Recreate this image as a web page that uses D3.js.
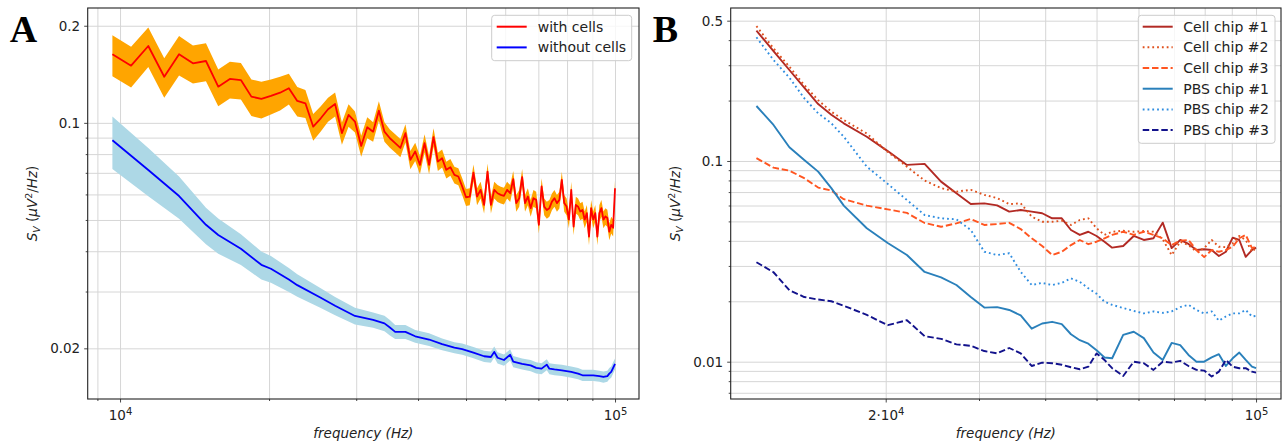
<!DOCTYPE html>
<html lang="en">
<head>
<meta charset="UTF-8">
<title>Noise spectra with and without cells</title>
<script src="https://d3js.org/d3.v7.min.js"></script>
<style>
  body { margin: 0; background: #fff; }
  svg { display: block; font-family: "DejaVu Sans", sans-serif; }
  .grid line { stroke: #d6d6d6; stroke-width: 1; }
  .grid path, .ticks path { display: none; }
  .ticks line { stroke: #333; stroke-width: 0.9; }
  .ticks text { fill: #222; font-size: 13.5px; font-family: "DejaVu Sans", sans-serif; }
</style>
</head>
<body>
<svg id="chart" width="1282" height="445"></svg>
<script>
// ---- panel A: frequency grid (Hz) ----
const freqA = [
  9650, 10527, 11404, 12282, 13159, 14036, 14913, 15790, 16668, 17545,
  18422, 19299, 20176, 21054, 21931, 22808, 23685, 24562, 25440, 26317,
  27194, 28071, 28948, 29826, 30703, 31580, 32457, 33334, 34212, 35089,
  35966, 36843, 37720, 38598, 39475, 40352, 41229, 42106, 42984, 43861,
  44738, 45615, 46492, 47370, 48247, 49124, 50001, 50878, 51756, 52633,
  53510, 54387, 55264, 56142, 57019, 57896, 58773, 59650, 60528, 61405,
  62282, 63159, 64036, 64914, 65791, 66668, 67545, 68422, 69300, 70177,
  71054, 71931, 72808, 73686, 74563, 75440, 76317, 77194, 78072, 78949,
  79826, 80703, 81580, 82458, 83335, 84212, 85089, 85966, 86844, 87721,
  88598, 89475, 90352, 91230, 92107, 92984, 93861, 94738, 95616, 96493,
  97370, 98247, 99124, 100000
];

// mean S_V with cells (uV^2/Hz)
const withCells = [
  0.1631, 0.1504, 0.1731, 0.1390, 0.1631, 0.1530, 0.1555, 0.1295, 0.1368, 0.1357,
  0.1206, 0.1186, 0.1212, 0.1240, 0.1280, 0.1169, 0.1150, 0.0973, 0.1033, 0.1102,
  0.1144, 0.0929, 0.1058, 0.1009, 0.0848, 0.0969, 0.0939, 0.1091, 0.0939, 0.0896,
  0.0865, 0.0836, 0.0929, 0.0768, 0.0815, 0.0741, 0.0865, 0.0741, 0.0903, 0.0758,
  0.0777, 0.0715, 0.0729, 0.0690, 0.0682, 0.0635, 0.0588, 0.0591, 0.0701, 0.0591,
  0.0620, 0.0557, 0.0706, 0.0557, 0.0620, 0.0605, 0.0598, 0.0594, 0.0620, 0.0605,
  0.0669, 0.0564, 0.0584, 0.0679, 0.0564, 0.0591, 0.0544, 0.0584, 0.0577, 0.0483,
  0.0635, 0.0550, 0.0537, 0.0544, 0.0570, 0.0584, 0.0564, 0.0577, 0.0666, 0.0564,
  0.0550, 0.0501, 0.0620, 0.0477, 0.0557, 0.0550, 0.0531, 0.0537, 0.0501, 0.0525,
  0.0444, 0.0544, 0.0501, 0.0525, 0.0444, 0.0525, 0.0544, 0.0501, 0.0513, 0.0507,
  0.0460, 0.0483, 0.0473, 0.0627
];
// spread (std, % of mean)
const withCellsSpread = [
  14.5, 14.5, 14, 14, 14, 13.5, 13.5, 13, 13, 13,
  13, 13, 12.5, 12, 11, 10.5, 10, 9.5, 9, 8.5,
  8.5, 8, 8, 7.5, 7.5, 7.5, 7, 7, 7, 6.5,
  6.5, 6.5, 6.5, 6.5, 6.5, 6.5, 6.5, 6.5, 6.5, 6.5,
  6.5, 6, 6, 6, 6, 6, 6, 6, 6, 6,
  6, 6, 6, 6, 6, 6, 6, 6, 6, 6,
  6, 6, 6, 6, 6, 6, 6, 6, 6, 6,
  6, 6, 6, 6, 6, 6, 6, 6, 6, 6,
  6, 6, 6, 6, 6, 6, 6, 6, 6, 6,
  6, 6, 6, 6, 6, 6, 6, 6, 6, 6,
  6, 6, 6, 6
];

const freqNoCells = [
  9650, 11404, 13159, 14913, 15790, 17545, 19299, 20176, 21931, 22808,
  25440, 27194, 29826, 32457, 34212, 35089, 35966, 37720, 39475, 42106,
  44738, 47370, 49124, 51756, 54387, 56142, 57019, 57896, 59650, 61405,
  62282, 64914, 67545, 69300, 71054, 72808, 73686, 75440, 78072, 81580,
  84212, 85966, 88598, 90352, 92984, 94738, 96493, 97370, 98247, 99124,
  100000
];
const withoutCells = [
  0.0883, 0.0714, 0.0593, 0.0483, 0.0449, 0.0407, 0.0363, 0.0353, 0.0327, 0.0314,
  0.0287, 0.0271, 0.0252, 0.0245, 0.0239, 0.0232, 0.0225, 0.0225, 0.0218, 0.0213,
  0.0206, 0.0201, 0.0199, 0.0194, 0.0189, 0.0188, 0.0195, 0.0187, 0.0184, 0.0191,
  0.0182, 0.0179, 0.0177, 0.0174, 0.0173, 0.0178, 0.0173, 0.0172, 0.0171, 0.0169,
  0.0167, 0.0165, 0.0165, 0.0165, 0.0164, 0.0163, 0.0164, 0.0167, 0.0169, 0.0174,
  0.0179
];
const withoutCellsSpread = [
  18.5, 17, 15, 13, 12.5, 11, 10, 9.5, 8.5, 8,
  7, 6.5, 6, 5.5, 5.5, 5.5, 5, 5, 4.5, 4.5,
  4.2, 4, 4, 4, 4, 4, 4, 4, 4, 4,
  4, 4, 4, 4, 4, 4, 4, 4, 4, 4,
  4, 4, 4, 4, 4, 4, 4, 4, 4, 4,
  4
];

// ---- panel B ----
const freqB = [
  11404, 12282, 13159, 14036, 14913, 15790, 16668, 18422, 20176, 21931,
  23685, 25440, 27194, 28948, 30703, 32457, 34212, 35966, 37720, 39475,
  41229, 42984, 44738, 46492, 48247, 50001, 51756, 53510, 56142, 58773,
  61405, 64036, 66668, 69300, 71931, 74563, 77194, 79826, 82458, 85089,
  87721, 90352, 92984, 95616, 98247, 100000
];
const cellChip1 = [
  0.446, 0.353, 0.284, 0.232, 0.192, 0.170, 0.154, 0.132, 0.112, 0.0956,
  0.0967, 0.0789, 0.0691, 0.0610, 0.0615, 0.0601, 0.0559, 0.0570, 0.0559, 0.0549,
  0.0518, 0.0518, 0.0453, 0.0428, 0.0444, 0.0423, 0.0396, 0.0370, 0.0377, 0.0423,
  0.0404, 0.0412, 0.0493, 0.0368, 0.0404, 0.0386, 0.0360, 0.0363, 0.0360, 0.0336,
  0.0353, 0.0415, 0.0404, 0.0333, 0.0360, 0.0370
];
const cellChip2 = [
  0.470, 0.364, 0.295, 0.239, 0.201, 0.176, 0.160, 0.137, 0.111, 0.0937,
  0.0799, 0.0732, 0.0704, 0.0718, 0.0678, 0.0653, 0.0610, 0.0615, 0.0528, 0.0498,
  0.0498, 0.0504, 0.0480, 0.0508, 0.0518, 0.0462, 0.0428, 0.0444, 0.0449, 0.0444,
  0.0448, 0.0444, 0.0407, 0.0340, 0.0396, 0.0381, 0.0353, 0.0368, 0.0404, 0.0374,
  0.0372, 0.0389, 0.0423, 0.0404, 0.0353, 0.0368
];
const cellChip3 = [
  0.1033, 0.0926, 0.0895, 0.0821, 0.0737, 0.0712, 0.0645, 0.0599, 0.0574, 0.0551,
  0.0491, 0.0470, 0.0489, 0.0514, 0.0480, 0.0485, 0.0492, 0.0458, 0.0412, 0.0377,
  0.0340, 0.0353, 0.0381, 0.0404, 0.0385, 0.0396, 0.0412, 0.0428, 0.0444, 0.0428,
  0.0444, 0.0428, 0.0412, 0.0381, 0.0401, 0.0404, 0.0360, 0.0332, 0.0360, 0.0353,
  0.0360, 0.0374, 0.0412, 0.0428, 0.0368, 0.0374
];
const pbsChip1 = [
  0.1879, 0.1512, 0.1171, 0.1012, 0.0885, 0.0732, 0.0599, 0.0462, 0.0390, 0.0340,
  0.0280, 0.0263, 0.0241, 0.0210, 0.0186, 0.0187, 0.0181, 0.0170, 0.0146, 0.0155,
  0.0158, 0.0154, 0.0137, 0.0128, 0.0123, 0.0114, 0.0105, 0.0104, 0.0136, 0.0141,
  0.0131, 0.0111, 0.0102, 0.0124, 0.0121, 0.0108, 0.0100, 0.0100, 0.0105, 0.0109,
  0.00952, 0.0104, 0.0111, 0.0102, 0.00944, 0.00928
];
const pbsChip2 = [
  0.4132, 0.3186, 0.2601, 0.2055, 0.1728, 0.1541, 0.1321, 0.0937, 0.0769, 0.0639,
  0.0538, 0.0518, 0.0512, 0.0453, 0.0353, 0.0340, 0.0347, 0.0280, 0.0241, 0.0247,
  0.0241, 0.0247, 0.0260, 0.0250, 0.0232, 0.0218, 0.0199, 0.0192, 0.0185, 0.0179,
  0.0174, 0.0178, 0.0175, 0.0178, 0.0187, 0.0192, 0.0181, 0.0174, 0.0178, 0.0160,
  0.0168, 0.0174, 0.0174, 0.0181, 0.0168, 0.0169
];
const pbsChip3 = [
  0.0313, 0.0279, 0.0227, 0.0210, 0.0204, 0.0200, 0.0190, 0.0171, 0.0152, 0.0161,
  0.0134, 0.0130, 0.0122, 0.0120, 0.0113, 0.0110, 0.0117, 0.0110, 0.00952, 0.00989,
  0.00982, 0.00966, 0.00938, 0.00917, 0.00944, 0.0110, 0.0102, 0.00928, 0.00849, 0.0100,
  0.00982, 0.0091, 0.0100, 0.00989, 0.0101, 0.00952, 0.0091, 0.00903, 0.00843, 0.00892,
  0.0102, 0.00944, 0.00928, 0.00928, 0.00892, 0.00882
];

const seriesB = [
  { name: "Cell chip #1", values: cellChip1, color: "#b22a24", dash: null },
  { name: "Cell chip #2", values: cellChip2, color: "#e0501c", dash: "1.8,3" },
  { name: "Cell chip #3", values: cellChip3, color: "#ff5520", dash: "6.5,2.8" },
  { name: "PBS chip #1", values: pbsChip1, color: "#2a80bb", dash: null },
  { name: "PBS chip #2", values: pbsChip2, color: "#2f8de0", dash: "1.8,3" },
  { name: "PBS chip #3", values: pbsChip3, color: "#12128c", dash: "6.5,2.8" }
];

const ticksAX = [1e4, 1e5], ticksAY = [0.02, 0.1, 0.2];
const ticksBX = [2e4, 1e5], ticksBY = [0.01, 0.1, 0.5];

const svg = d3.select("#chart");

function supLabel(sel) {
  sel.each(function(v) {
    const t = d3.select(this).text(null);
    const e = Math.floor(Math.log10(v) + 1e-9);
    const m = Math.round(v / Math.pow(10, e));
    t.append("tspan").text((m === 1 ? "" : m + "\u00b7") + "10");
    t.append("tspan").attr("dy", "-0.5em").attr("font-size", "10px").text(e);
  });
}

function panel(box, x, y, xt, yt, letter, id) {
  const w = box.right - box.left, h = box.bottom - box.top;
  const g = svg.append("g");

  g.append("clipPath").attr("id", id)
    .append("rect").attr("x", box.left).attr("y", box.top).attr("width", w).attr("height", h);

  // grid, major and minor
  g.append("g").attr("class", "grid").attr("transform", `translate(0,${box.bottom})`)
    .call(d3.axisBottom(x).tickValues(x.ticks()).tickSize(-h).tickFormat(""));
  g.append("g").attr("class", "grid").attr("transform", `translate(${box.left},0)`)
    .call(d3.axisLeft(y).tickValues(y.ticks()).tickSize(-w).tickFormat(""));

  // minor ticks
  g.append("g").attr("class", "ticks").attr("transform", `translate(0,${box.bottom})`)
    .call(d3.axisBottom(x).tickValues(x.ticks().filter(v => !xt.includes(v))).tickSize(2).tickFormat(""));
  g.append("g").attr("class", "ticks").attr("transform", `translate(${box.left},0)`)
    .call(d3.axisLeft(y).tickValues(y.ticks().filter(v => !yt.includes(v))).tickSize(2).tickFormat(""));

  // major ticks
  const ax = g.append("g").attr("class", "ticks").attr("transform", `translate(0,${box.bottom})`)
    .call(d3.axisBottom(x).tickValues(xt).tickSize(3.5).tickSizeOuter(0));
  ax.selectAll("text").attr("y", 11.3).attr("dy", "0.71em").call(supLabel);
  g.append("g").attr("class", "ticks").attr("transform", `translate(${box.left},0)`)
    .call(d3.axisLeft(y).tickValues(yt).tickSize(3.5).tickPadding(4).tickSizeOuter(0).tickFormat(d => String(d)));

  // axis labels
  g.append("text").attr("x", (box.left + box.right) / 2).attr("y", 438)
    .attr("text-anchor", "middle").attr("font-size", "13.5px").attr("fill", "#222")
    .html('<tspan font-style="italic">frequency</tspan> <tspan font-style="italic">(Hz)</tspan>');
  const yl = g.append("text")
    .attr("transform", `translate(${box.left - 50.5},${(box.top + box.bottom) / 2}) rotate(-90)`)
    .attr("text-anchor", "middle").attr("font-size", "13.5px").attr("fill", "#222");
  yl.append("tspan").attr("font-style", "italic").text("S");
  yl.append("tspan").attr("font-style", "italic").attr("font-size", "9.5px").attr("dy", "3").text("V");
  yl.append("tspan").attr("dy", "-3").text(" (");
  yl.append("tspan").attr("font-style", "italic").text("\u03bcV");
  yl.append("tspan").attr("font-size", "9.5px").attr("dy", "-5").text("2");
  yl.append("tspan").attr("dy", "5").text("/");
  yl.append("tspan").attr("font-style", "italic").text("Hz");
  yl.append("tspan").text(")");

  // panel letter
  svg.append("text").attr("x", box.left - 78).attr("y", 41.5)
    .attr("font-family", "Liberation Serif, serif").attr("font-weight", "bold")
    .attr("font-size", "38px").attr("fill", "#000").text(letter);

  const plot = g.append("g").attr("clip-path", `url(#${id})`);
  return { g, plot };
}

// ---------- Panel A ----------
const boxA = { left: 87.7, right: 639, top: 8, bottom: 399 };
const xA = d3.scaleLog().domain([8603, 111800]).range([boxA.left, boxA.right]);
const yA = d3.scaleLog().domain([0.01393, 0.227]).range([boxA.bottom, boxA.top]);
const pA = panel(boxA, xA, yA, ticksAX, ticksAY, "A", "clipA");

const red = freqA.map((f, i) => ({ f, v: withCells[i], s: withCellsSpread[i] / 100 }));
const blue = freqNoCells.map((f, i) => ({ f, v: withoutCells[i], s: withoutCellsSpread[i] / 100 }));

const areaA = d3.area().x(d => xA(d.f)).y0(d => yA(d.v * (1 - d.s))).y1(d => yA(d.v * (1 + d.s)));
const lineA = d3.line().x(d => xA(d.f)).y(d => yA(d.v));

pA.plot.append("path").datum(red).attr("d", areaA).attr("fill", "#ffa500");
pA.plot.append("path").datum(red).attr("d", lineA).attr("fill", "none")
  .attr("stroke", "#ff0000").attr("stroke-width", 1.8).attr("stroke-linejoin", "round");
pA.plot.append("path").datum(blue).attr("d", areaA).attr("fill", "#add8e6");
pA.plot.append("path").datum(blue).attr("d", lineA).attr("fill", "none")
  .attr("stroke", "#0000ff").attr("stroke-width", 1.8).attr("stroke-linejoin", "round");

pA.g.append("rect").attr("x", boxA.left).attr("y", boxA.top)
  .attr("width", boxA.right - boxA.left).attr("height", boxA.bottom - boxA.top)
  .attr("fill", "none").attr("stroke", "#222").attr("stroke-width", 1.1);

// legend A
const legA = pA.g.append("g").attr("transform", "translate(491.7,15.3)");
legA.append("rect").attr("width", 140).attr("height", 45.4).attr("rx", 3)
  .attr("fill", "#fff").attr("fill-opacity", 0.8).attr("stroke", "#cccccc");
[["with cells", "#ff0000"], ["without cells", "#0000ff"]].forEach(([t, c], i) => {
  const yy = 11.4 + i * 20.7;
  legA.append("line").attr("x1", 5).attr("x2", 35).attr("y1", yy).attr("y2", yy)
    .attr("stroke", c).attr("stroke-width", 2);
  legA.append("text").attr("x", 46).attr("y", yy).attr("dy", "0.36em")
    .attr("font-size", "14px").attr("fill", "#222").text(t);
});

// ---------- Panel B ----------
const boxB = { left: 730.7, right: 1281, top: 8, bottom: 399 };
const xB = d3.scaleLog().domain([10197, 111460]).range([boxB.left, boxB.right]);
const yB = d3.scaleLog().domain([0.006518, 0.5783]).range([boxB.bottom, boxB.top]);
const pB = panel(boxB, xB, yB, ticksBX, ticksBY, "B", "clipB");

const lineB = d3.line().x(d => xB(d.f)).y(d => yB(d.v));
seriesB.forEach(s => {
  pB.plot.append("path").datum(freqB.map((f, i) => ({ f, v: s.values[i] })))
    .attr("d", lineB).attr("fill", "none").attr("stroke", s.color)
    .attr("stroke-width", 1.9).attr("stroke-dasharray", s.dash)
    .attr("stroke-linejoin", "round");
});

pB.g.append("rect").attr("x", boxB.left).attr("y", boxB.top)
  .attr("width", boxB.right - boxB.left).attr("height", boxB.bottom - boxB.top)
  .attr("fill", "none").attr("stroke", "#222").attr("stroke-width", 1.1);

const legB = pB.g.append("g").attr("transform", "translate(1138.3,15.3)");
legB.append("rect").attr("width", 136.7).attr("height", 128).attr("rx", 3)
  .attr("fill", "#fff").attr("fill-opacity", 0.8).attr("stroke", "#cccccc");
seriesB.forEach((s, i) => {
  const yy = 11.4 + i * 20.67;
  legB.append("line").attr("x1", 4.4).attr("x2", 34.4).attr("y1", yy).attr("y2", yy)
    .attr("stroke", s.color).attr("stroke-width", 2).attr("stroke-dasharray", s.dash);
  legB.append("text").attr("x", 45).attr("y", yy).attr("dy", "0.36em")
    .attr("font-size", "14px").attr("fill", "#222").text(s.name);
});
</script>
</body>
</html>
